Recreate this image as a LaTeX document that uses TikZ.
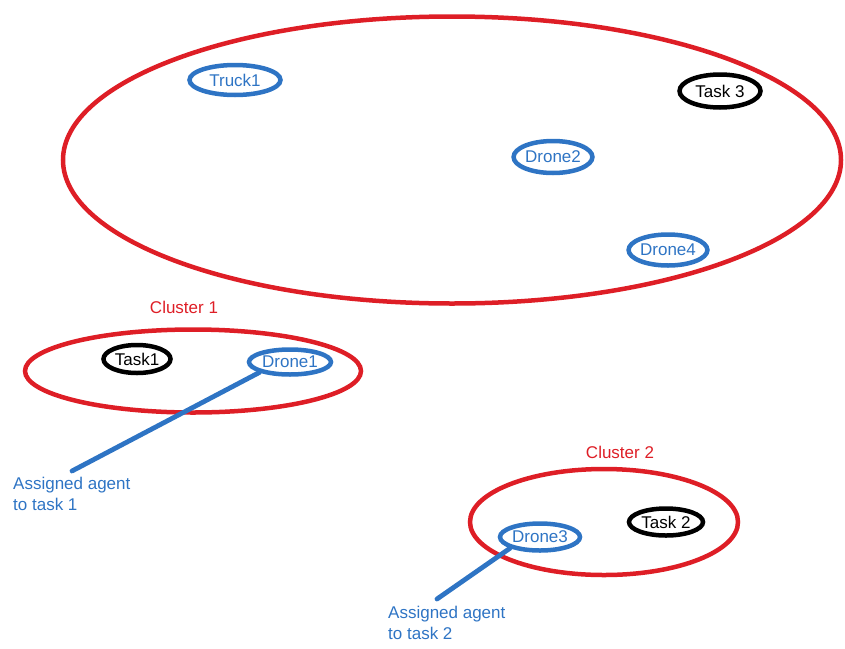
\documentclass[tikz,border=0pt]{standalone}
\usepackage{fontspec}
\setmainfont{Liberation Sans}
\usepackage{tikz}
\usetikzlibrary{shapes.geometric}

\definecolor{clred}{RGB}{222,30,38}
\definecolor{agblue}{RGB}{46,116,196}

\tikzset{
  cluster/.style={draw=clred, line width=4.5pt, ellipse, inner sep=0pt},
  agent/.style={draw=agblue, line width=4.5pt, ellipse, inner sep=0pt,
    text=agblue},
  task/.style={draw=black, line width=4.5pt, ellipse, inner sep=0pt},
  note/.style={text=agblue, align=left, anchor=north west, inner sep=0pt},
  clname/.style={text=clred},
  pointer/.style={draw=agblue, line width=4.8pt, line cap=round}
}

\begin{document}
\begin{tikzpicture}[x=1pt, y=-1pt, font=\fontsize{17}{20.5}\selectfont]
\useasboundingbox (0,0) rectangle (845,648);
% clusters
\node[cluster, minimum width=778pt, minimum height=287pt] (big) at (452,160) {};
\node[cluster, minimum width=336pt, minimum height=83pt] (c1) at (193,371) {};
\node[cluster, minimum width=268pt, minimum height=106pt] (c2) at (604,522) {};
\node[clname] (c1name) at (184,307) {Cluster 1};
\node[clname] (c2name) at (620,452) {Cluster 2};
% agents and tasks
\node[agent, minimum width=91pt, minimum height=30pt] (truck1) at (235,80) {Truck1};
\node[agent, minimum width=78pt, minimum height=32pt] (drone2) at (553,157) {Drone2};
\node[agent, minimum width=76pt, minimum height=31pt] (drone4) at (668,250) {Drone4};
\node[agent, minimum width=82pt, minimum height=25pt] (drone1) at (290,362) {Drone1};
\node[agent, minimum width=80pt, minimum height=27pt] (drone3) at (540,537) {Drone3};
\node[task, minimum width=81pt, minimum height=33pt] (task3) at (720,91) {Task 3};
\node[task, minimum width=67pt, minimum height=28pt] (task1) at (137,359) {Task1};
\node[task, minimum width=74pt, minimum height=27pt] (task2) at (666,522) {Task 2};
% notes
\node[note] (n1) at (13,477) {Assigned agent\\to task 1};
\node[note] (n2) at (388,606) {Assigned agent\\to task 2};
\coordinate (n1tip) at (72,471);
\coordinate (n2tip) at (437,599);
\draw[pointer] (drone1.south west) -- (n1tip);
\draw[pointer] (drone3.south west) -- (n2tip);
\end{tikzpicture}
\end{document}
